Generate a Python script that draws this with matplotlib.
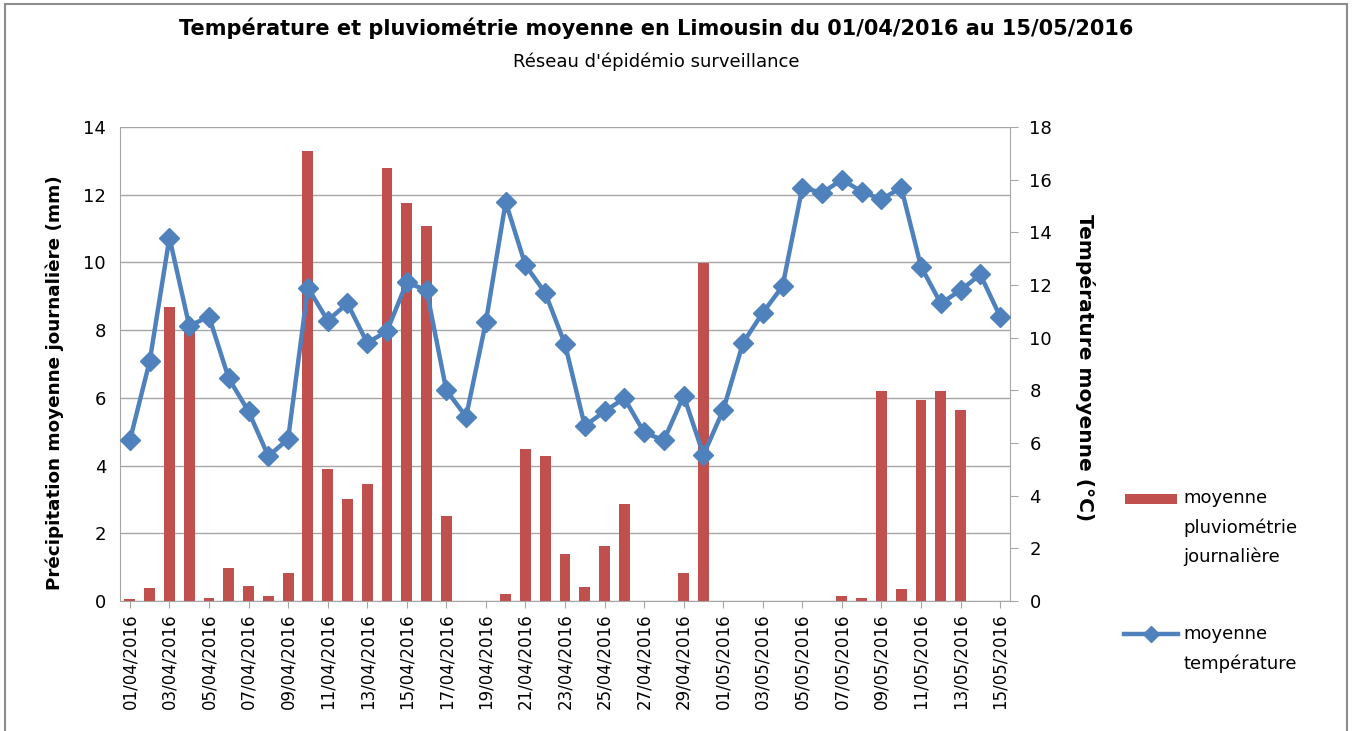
import matplotlib
matplotlib.use("Agg")
import matplotlib.pyplot as plt
from matplotlib.lines import Line2D
from matplotlib.patches import Rectangle
import numpy as np

dates = ["01/04/2016", "02/04/2016", "03/04/2016", "04/04/2016", "05/04/2016", "06/04/2016",
         "07/04/2016", "08/04/2016", "09/04/2016", "10/04/2016", "11/04/2016", "12/04/2016",
         "13/04/2016", "14/04/2016", "15/04/2016", "16/04/2016", "17/04/2016", "18/04/2016",
         "19/04/2016", "20/04/2016", "21/04/2016", "22/04/2016", "23/04/2016", "24/04/2016",
         "25/04/2016", "26/04/2016", "27/04/2016", "28/04/2016", "29/04/2016", "30/04/2016",
         "01/05/2016", "02/05/2016", "03/05/2016", "04/05/2016", "05/05/2016", "06/05/2016",
         "07/05/2016", "08/05/2016", "09/05/2016", "10/05/2016", "11/05/2016", "12/05/2016",
         "13/05/2016", "14/05/2016", "15/05/2016"]

pluie = [0.05, 0.38, 8.68, 8.2, 0.08, 0.97, 0.45, 0.15, 0.83, 13.28,
         3.9, 3.0, 3.45, 12.8, 11.75, 11.07, 2.5, 0.0, 0.0, 0.22,
         4.5, 4.28, 1.38, 0.4, 1.62, 2.86, 0.0, 0.0, 0.83, 9.98,
         0.0, 0.0, 0.0, 0.0, 0.0, 0.0, 0.15, 0.08, 6.2, 0.35,
         5.95, 6.2, 5.65, 0.0, 0.0]

temperature = [6.1, 9.1, 13.8, 10.45, 10.8, 8.45, 7.2, 5.5, 6.15, 11.9,
               10.65, 11.3, 9.8, 10.25, 12.1, 11.8, 8.0, 7.0, 10.6, 15.15,
               12.75, 11.7, 9.75, 6.65, 7.2, 7.7, 6.4, 6.1, 7.8, 5.55,
               7.25, 9.8, 10.95, 11.95, 15.7, 15.5, 16.0, 15.55, 15.25, 15.7,
               12.7, 11.3, 11.8, 12.4, 10.8]

title = "Température et pluviométrie moyenne en Limousin du 01/04/2016 au 15/05/2016"
subtitle = "Réseau d'épidémio surveillance"
ylabel_left = "Précipitation moyenne journalière (mm)"
ylabel_right = "Température moyenne (°C)"
label_pluie = "moyenne\npluviométrie\njournalière"
label_temp = "moyenne\ntempérature"

bar_color = "#C0504D"
line_color = "#4F81BD"
grid_color = "#A6A6A6"

W, H = 1352, 731
fig = plt.figure(figsize=(W / 100, H / 100), dpi=100)
fig.patches.append(Rectangle((5 / W, -0.01), (1347 - 5) / W, 1 - 4 / H + 0.01, transform=fig.transFigure,
                             fill=False, edgecolor="#8C8C8C", linewidth=1.5))

left, right, top, bottom = 120, 1010, 127, 601
ax = fig.add_axes([left / W, 1 - bottom / H, (right - left) / W, (bottom - top) / H])
x = np.arange(len(dates))
ax.bar(x, pluie, width=0.55, color=bar_color, zorder=2)
ax.set_xlim(-0.5, len(dates) - 0.5)
ax.set_ylim(0, 14)
ax.set_yticks(np.arange(0, 15, 2))
ax.yaxis.grid(True, color=grid_color, linewidth=1)
ax.set_axisbelow(True)
ax.tick_params(axis="y", length=0, labelsize=13, pad=10)
ax.set_xticks(x[::2])
ax.set_xticklabels(dates[::2], rotation=90, fontsize=12)
ax.tick_params(axis="x", length=5, color=grid_color, pad=4)
for s in ["top", "right"]:
    ax.spines[s].set_visible(False)
for s in ["left", "bottom"]:
    ax.spines[s].set_color(grid_color)

ax2 = ax.twinx()
ax2.plot(x, temperature, color=line_color, linewidth=3.2, marker="D", markersize=10, zorder=3)
ax2.set_ylim(0, 18)
ax2.set_yticks(np.arange(0, 19, 2))
ax2.tick_params(axis="y", length=6, color=grid_color, labelsize=13, pad=8)
for s in ["top", "left", "bottom"]:
    ax2.spines[s].set_visible(False)
ax2.spines["right"].set_color(grid_color)

fig.text(55 / W, 1 - 383 / H, ylabel_left, rotation=90, ha="center", va="center",
         fontsize=13.2, fontweight="bold")
fig.text(1085 / W, 1 - 368 / H, ylabel_right, rotation=270, ha="center", va="center",
         fontsize=14.5, fontweight="bold")

fig.text(656 / W, 1 - 28 / H, title, ha="center", va="center", fontsize=15, fontweight="bold")
fig.text(656 / W, 1 - 62 / H, subtitle, ha="center", va="center", fontsize=13)

# Legend (handles aligned with the first text line, as in the original)
def fx(px):
    return px / W

def fy(py):
    return 1 - py / H

fig.patches.append(Rectangle((fx(1125), fy(504)), (1177 - 1125) / W, 10 / H,
                             transform=fig.transFigure, facecolor=bar_color, edgecolor="none"))
fig.lines.append(Line2D([fx(1124), fx(1178)], [fy(634), fy(634)], transform=fig.transFigure,
                        color=line_color, linewidth=3.2))
fig.lines.append(Line2D([fx(1151)], [fy(634)], transform=fig.transFigure, color=line_color,
                        marker="D", markersize=8, linestyle="none"))
for label, y0 in [(label_pluie, 498), (label_temp, 634)]:
    for i, line in enumerate(label.split("\n")):
        fig.text(fx(1183), fy(y0 + i * 29.5), line, ha="left", va="center", fontsize=13)

fig.savefig("out.png", dpi=100)
